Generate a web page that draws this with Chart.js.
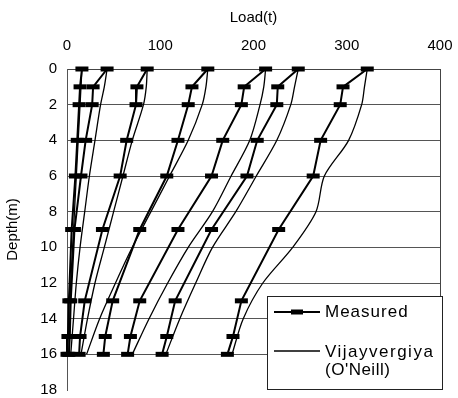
<!DOCTYPE html>
<html>
<head>
<meta charset="utf-8">
<script src="https://cdn.jsdelivr.net/npm/chart.js@4.4.1/dist/chart.umd.min.js"></script>
<style>
html,body{margin:0;padding:0;background:#fff;}
canvas{display:block;}
</style>
</head>
<body>
<canvas id="c" width="458" height="398"></canvas>
<script>
// Depths (m)
const depthsMeasured = [0, 1, 2, 4, 6, 9, 13, 15, 16];
const depthsVijay = [0, 1, 2, 4, 6, 8, 10, 12, 14, 16];

// Measured load (t) per load step
const measured1 = [16, 14, 13, 11, 9, 5, 2, 1, 0];
const measured2 = [43, 28, 27, 20, 15, 8, 4, 3, 2];
const measured3 = [86, 75, 74, 64, 57, 38, 19, 14, 13];
const measured4 = [151, 134, 130, 119, 107, 78, 49, 41, 39];
const measured5 = [213, 190, 187, 167, 155, 119, 78, 68, 65];
const measured6 = [248, 226, 225, 204, 193, 155, 116, 107, 102];
const measured7 = [322, 296, 293, 272, 264, 227, 187, 178, 172];

// Vijayvergiya (O'Neill) predicted load (t)
const vijay1 = [16, 15, 14, 12, 10, 8, 6, 4, 3, 2];
const vijay2 = [43, 40, 36, 30, 24, 19, 14, 10, 7, 4];
const vijay3 = [86, 85, 82, 70, 60, 50, 40, 30, 22, 15];
const vijay4 = [151, 149, 145, 130, 110, 90, 70, 52, 35, 21];
const vijay5 = [213, 211, 207, 196, 176, 156, 130, 108, 88, 70];
const vijay6 = [248, 244, 240, 225, 203, 181, 156, 138, 121, 106];
const vijay7 = [322, 319, 316, 302, 276, 267, 242, 210, 189, 177];

// Axis ticks
const loadTicks = [0, 100, 200, 300, 400];
const depthTicks = [0, 2, 4, 6, 8, 10, 12, 14, 16, 18];

const measuredSeries = [measured1, measured2, measured3, measured4, measured5, measured6, measured7];
const vijaySeries = [vijay1, vijay2, vijay3, vijay4, vijay5, vijay6, vijay7];

const FONT = "'Liberation Sans', Arial, sans-serif";

const datasets = [];
vijaySeries.forEach((s) => {
  datasets.push({
    label: "Vijayvergiya (O'Neill)",
    data: s.map((v, k) => ({x: v, y: depthsVijay[k]})),
    borderColor: '#000',
    borderWidth: 1.3,
    pointRadius: 0,
    tension: 0.3,
    fill: false,
    clip: false
  });
});
measuredSeries.forEach((s) => {
  datasets.push({
    label: 'Measured',
    data: s.map((v, k) => ({x: v, y: depthsMeasured[k]})),
    borderColor: '#000',
    borderWidth: 2,
    pointStyle: 'line',
    pointRadius: 6.5,
    pointBorderWidth: 5,
    pointBorderColor: '#000',
    pointBackgroundColor: '#000',
    tension: 0,
    fill: false,
    clip: false
  });
});

const legendPlugin = {
  id: 'boxLegend',
  afterDraw(chart) {
    const ctx = chart.ctx;
    ctx.save();
    ctx.fillStyle = '#fff';
    ctx.fillRect(267, 296, 176, 94);
    ctx.strokeStyle = '#222';
    ctx.lineWidth = 1;
    ctx.strokeRect(267.5, 296.5, 175, 93);
    ctx.strokeStyle = '#000';
    ctx.lineWidth = 2;
    ctx.beginPath(); ctx.moveTo(274, 312); ctx.lineTo(320, 312); ctx.stroke();
    ctx.lineWidth = 5;
    ctx.beginPath(); ctx.moveTo(291, 312); ctx.lineTo(303, 312); ctx.stroke();
    ctx.lineWidth = 1.3;
    ctx.beginPath(); ctx.moveTo(274, 351); ctx.lineTo(320, 351); ctx.stroke();
    ctx.fillStyle = '#000';
    ctx.font = '17px ' + FONT;
    ctx.textBaseline = 'middle';
    ctx.textAlign = 'left';
    try { ctx.letterSpacing = '1px'; } catch (e) {}
    ctx.fillText('Measured', 325, 312);
    try { ctx.letterSpacing = '1.5px'; } catch (e) {}
    ctx.fillText('Vijayvergiya', 325, 352);
    try { ctx.letterSpacing = '0.5px'; } catch (e) {}
    ctx.fillText("(O'Neill)", 325, 370);
    ctx.restore();
  }
};

new Chart(document.getElementById('c'), {
  type: 'line',
  data: { datasets },
  options: {
    responsive: false,
    animation: false,
    layout: { autoPadding: false, padding: { left: 0, top: 0, right: 18, bottom: 8 } },
    plugins: { legend: { display: false }, tooltip: { enabled: false } },
    scales: {
      x: {
        type: 'linear',
        position: 'top',
        min: 0, max: 400,
        afterBuildTicks: (s) => { s.ticks = loadTicks.map(v => ({value: v})); },
        ticks: { color: '#000', font: { family: FONT, size: 15 }, padding: 14 },
        grid: {
          drawTicks: false,
          color: (c) => (c.tick && c.tick.value === 400) ? '#444' : 'rgba(0,0,0,0)'
        },
        border: { display: true, color: '#444' },
        title: { display: true, text: 'Load(t)', color: '#000', font: { family: FONT, size: 15 }, padding: { top: 9, bottom: 0 } },
        afterFit: (s) => { s.height = 69; s.paddingLeft = 0; s.paddingRight = 0; }
      },
      y: {
        type: 'linear',
        reverse: true,
        min: 0, max: 18,
        afterBuildTicks: (s) => { s.ticks = depthTicks.map(v => ({value: v})); },
        ticks: { color: '#000', font: { family: FONT, size: 15 }, padding: 10 },
        grid: {
          drawTicks: false,
          color: (c) => (c.tick && c.tick.value === 18) ? 'rgba(0,0,0,0)' : '#555'
        },
        border: { display: true, color: '#555' },
        title: { display: true, text: 'Depth(m)', color: '#000', font: { family: FONT, size: 15 }, padding: { top: 4, bottom: 0 } },
        afterFit: (s) => { s.width = 67; s.paddingTop = 0; s.paddingBottom = 0; }
      }
    }
  },
  plugins: [legendPlugin]
});
</script>
</body>
</html>
